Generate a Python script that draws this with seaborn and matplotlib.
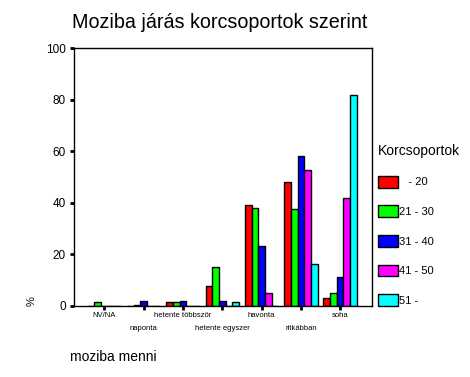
import matplotlib
matplotlib.use("Agg")
import matplotlib.pyplot as plt
import seaborn as sns
import pandas as pd

categories = ["NV/NA", "naponta", "hetente többször", "hetente egyszer",
              "havonta", "ritkábban", "soha"]
age_groups = ["   - 20", "21 - 30", "31 - 40", "41 - 50", "51 - "]
# percentages per category for each age group
pct_u20 = [0.0, 0.0, 1.4, 7.6, 39.0, 48.3, 3.0]
pct_21_30 = [1.6, 0.5, 1.7, 15.0, 38.1, 37.5, 5.2]
pct_31_40 = [0.0, 2.0, 2.1, 2.1, 23.1, 58.1, 11.4]
pct_41_50 = [0.0, 0.0, 0.0, 0.0, 5.1, 52.6, 42.1]
pct_51 = [0.0, 0.0, 0.0, 1.7, 0.0, 16.4, 81.7]
colors = ["#ff0000", "#00ff00", "#0000ff", "#ff00ff", "#00ffff"]

series = [pct_u20, pct_21_30, pct_31_40, pct_41_50, pct_51]
rows = []
for g, vals in zip(age_groups, series):
    for c, v in zip(categories, vals):
        rows.append({"cat": c, "pct": v, "age": g})
df = pd.DataFrame(rows)

sns.set_theme(style="white")
plt.rcParams["font.family"] = ["Liberation Sans", "DejaVu Sans"]
plt.rcParams["text.color"] = "black"
plt.rcParams["axes.labelcolor"] = "black"

fig = plt.figure(figsize=(4.70, 3.77), dpi=100)
ax = fig.add_axes([74 / 470, 1 - 306 / 377, 298 / 470, (306 - 48.3) / 377])

sns.barplot(data=df, x="cat", y="pct", hue="age", order=categories,
            hue_order=age_groups, palette=colors, edgecolor="black",
            linewidth=1.0, width=0.85, gap=0, saturation=1, ax=ax,
            errorbar=None)

ax.set_xlim(-0.77, 6.81)
ax.set_ylim(0, 100)
ax.set_yticks([0, 20, 40, 60, 80, 100])
ax.tick_params(axis="y", direction="out", length=3, width=2, pad=3,
               labelsize=8.5, colors="black", left=True)
ax.tick_params(axis="x", direction="out", length=3, width=2, pad=1.4,
               labelsize=5.5, colors="black", bottom=True)
ax.set_xticks(range(len(categories)))
ax.set_xticklabels(categories)
for i, t in enumerate(ax.xaxis.get_major_ticks()):
    if i % 2 == 1:
        t.set_pad(10.8)

for s in ax.spines.values():
    s.set_visible(True)
    s.set_color("black")
    s.set_linewidth(1.0)

ax.set_ylabel("%", fontsize=8)
ax.yaxis.set_label_coords(-0.141, 0.02)
ax.yaxis.label.set_va("center")
ax.set_xlabel("moziba menni", fontsize=10)
ax.xaxis.set_label_coords(-0.015, -0.198)
ax.xaxis.label.set_ha("left")
ax.xaxis.label.set_va("center")

fig.text(220 / 470, 1 - 23 / 377, "Moziba járás korcsoportok szerint",
         fontsize=14.2, ha="center", va="center", color="black")

handles, labels = ax.get_legend_handles_labels()
ax.legend(handles, labels, title="Korcsoportok", frameon=False,
          loc="upper left", bbox_to_anchor=(377.5 / 470, 1 - 144 / 377),
          bbox_transform=fig.transFigure, borderpad=0, borderaxespad=0,
          fontsize=8, title_fontsize=10, handlelength=1.8,
          handleheight=1.26, handletextpad=0.1, labelspacing=1.6,
          alignment="left")

fig.savefig("out.png", dpi=100, facecolor="white")
